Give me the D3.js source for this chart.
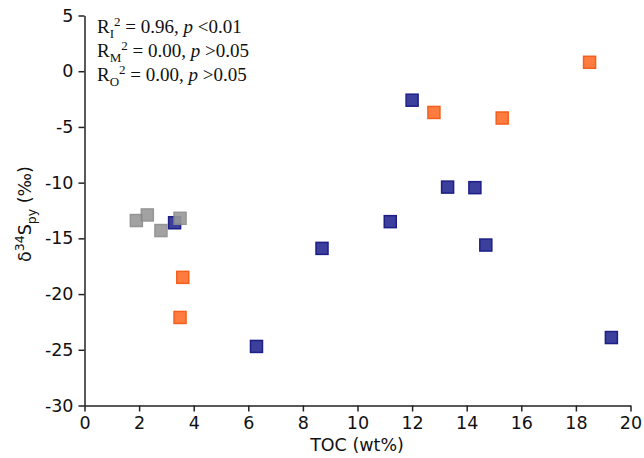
<!DOCTYPE html>
<html>
<head>
<meta charset="utf-8">
<script src="https://cdn.jsdelivr.net/npm/d3@7"></script>
<style>
  html, body { margin: 0; padding: 0; background: #fff; }
  svg { display: block; }
</style>
</head>
<body>
<svg id="chart" width="644" height="458"></svg>
<script>
// ---- data ----
const blueTOC  = [12.0, 13.3, 14.3, 11.2, 14.7, 8.7, 6.3, 19.3, 3.3];
const blueS    = [-2.6, -10.4, -10.45, -13.5, -15.6, -15.9, -24.7, -23.9, -13.6];
const orangeTOC = [18.5, 12.8, 15.3, 3.6, 3.5];
const orangeS   = [0.8, -3.7, -4.2, -18.5, -22.1];
const greyTOC  = [1.9, 2.3, 2.8, 3.5];
const greyS    = [-13.4, -12.9, -14.3, -13.2];
const xTicks = [0, 2, 4, 6, 8, 10, 12, 14, 16, 18, 20];
const yTicks = [5, 0, -5, -10, -15, -20, -25, -30];
const statLines = [
  {sub: "I", val: "0.96", rel: "<0.01"},
  {sub: "M", val: "0.00", rel: ">0.05"},
  {sub: "O", val: "0.00", rel: ">0.05"}
];

const svg = d3.select("#chart");
const x = d3.scaleLinear().domain([0, 20]).range([84.5, 630.5]);
const y = d3.scaleLinear().domain([-30, 5]).range([405.5, 15.5]);

const tickFont = "'DejaVu Sans', sans-serif";

// x axis
const xAxis = svg.append("g").attr("transform", "translate(0,405.5)")
  .call(d3.axisBottom(x).tickValues(xTicks).tickSize(6).tickSizeOuter(0).tickPadding(5));
xAxis.selectAll("text").attr("font-family", tickFont).attr("font-size", 17.5).attr("fill", "#111");
xAxis.selectAll("line, path").attr("stroke", "#222").attr("stroke-width", 1.5);

// y axis
const yAxis = svg.append("g").attr("transform", "translate(84.5,0)")
  .call(d3.axisLeft(y).tickValues(yTicks).tickSize(6).tickSizeOuter(0).tickPadding(5)
    .tickFormat(d => String(d)));
yAxis.selectAll("text").attr("font-family", tickFont).attr("font-size", 17.5).attr("fill", "#111");
yAxis.selectAll("line, path").attr("stroke", "#222").attr("stroke-width", 1.5);

// axis titles
svg.append("text")
  .attr("x", 357).attr("y", 451)
  .attr("text-anchor", "middle")
  .attr("font-family", tickFont).attr("font-size", 17.5).attr("fill", "#111")
  .text("TOC (wt%)");

const yl = svg.append("text")
  .attr("transform", "translate(31,214) rotate(-90)")
  .attr("text-anchor", "middle")
  .attr("font-family", tickFont).attr("font-size", 17.5).attr("fill", "#111");
yl.append("tspan").text("δ");
yl.append("tspan").attr("dy", -7).attr("font-size", 12.5).text("34");
yl.append("tspan").attr("dy", 7).text("S");
yl.append("tspan").attr("dy", 5).attr("font-size", 12.5).text("py");
yl.append("tspan").attr("dy", -5).text(" (‰)");

// markers
const size = 12;
function drawSquares(xs, ys, fill, stroke, opacity) {
  svg.append("g").selectAll("rect")
    .data(xs.map((d, i) => [d, ys[i]]))
    .join("rect")
    .attr("x", d => x(d[0]) - size / 2)
    .attr("y", d => y(d[1]) - size / 2)
    .attr("width", size).attr("height", size)
    .attr("fill", fill).attr("stroke", stroke).attr("stroke-width", 1.5)
    .attr("opacity", opacity);
}
drawSquares(orangeTOC, orangeS, "#ff7c40", "#f45f1c", 1);
drawSquares(blueTOC, blueS, "#3c3f9c", "#1d1f86", 1);
drawSquares(greyTOC, greyS, "#999999", "#8a8a8a", 0.9);

// stats annotation
const serif = "'Liberation Serif', 'Times New Roman', serif";
const baselines = [33, 57, 81];
statLines.forEach((s, i) => {
  const t = svg.append("text")
    .attr("x", 97).attr("y", baselines[i])
    .attr("font-family", serif).attr("font-size", 19).attr("fill", "#111");
  t.append("tspan").text("R");
  t.append("tspan").attr("dy", 5).attr("font-size", 13).text(s.sub);
  t.append("tspan").attr("dy", -12).attr("font-size", 13).text("2");
  t.append("tspan").attr("dy", 7).text(" = " + s.val + ", ");
  t.append("tspan").attr("font-style", "italic").text("p");
  t.append("tspan").text(" " + s.rel);
});
</script>
</body>
</html>
